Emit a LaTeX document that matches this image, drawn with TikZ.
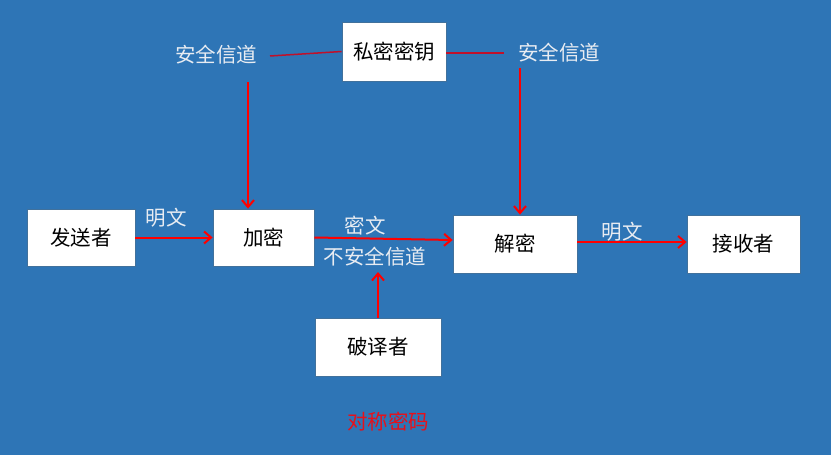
\documentclass[tikz,border=0pt]{standalone}
\usepackage{fontspec}
\setmainfont{Noto Sans CJK SC}
\usetikzlibrary{arrows.meta}
\definecolor{bgblue}{HTML}{2E75B6}
\definecolor{boxline}{HTML}{41719C}
\definecolor{arrred}{HTML}{FF0000}
\definecolor{lnred}{HTML}{C0102A}
\definecolor{lbl}{HTML}{E8ECF2}
\definecolor{ttlred}{HTML}{E8101A}
\tikzset{
  box/.style={draw=boxline, line width=0.8pt, fill=white, inner sep=0pt, text=black, font=\fontsize{20.5}{24}\selectfont},
  lab/.style={text=lbl, inner sep=0pt, font=\fontsize{20.5}{24}\selectfont},
  arr/.style={draw=arrred, line width=2pt, -{Straight Barb[length=7pt,width=12pt,line width=2pt]}},
  ln/.style={draw=lnred, line width=1.5pt}
}
\begin{document}
\begin{tikzpicture}[x=1pt,y=-1pt]
\fill[bgblue] (0,0) rectangle (831,455);
\useasboundingbox (0,0) rectangle (831,455);
% boxes
\node[box, minimum width=104pt, minimum height=59pt] (key) at (394,51.5) {私密密钥};
\node[box, minimum width=108pt, minimum height=57pt] (send) at (81,237.5) {发送者};
\node[box, minimum width=101pt, minimum height=57pt] (enc) at (263.5,237.5) {加密};
\node[box, minimum width=124pt, minimum height=58pt] (dec) at (515,244) {解密};
\node[box, minimum width=113pt, minimum height=58pt] (recv) at (743.5,244) {接收者};
\node[box, minimum width=126pt, minimum height=58pt] (crack) at (378,347) {破译者};
% labels
\node[lab] (chL) at (216,55) {安全信道};
\node[lab] (chR) at (559,53) {安全信道};
\node[lab] (pt1) at (166,218) {明文};
\node[lab] (ct) at (365,226) {密文};
\node[lab] (unsafe) at (375,257) {不安全信道};
\node[lab] (pt2) at (622,232) {明文};
\node[text=ttlred, inner sep=0pt, font=\fontsize{20.5}{24}\selectfont] (title) at (388,422) {对称密码};
% coordinates
\coordinate (lA) at (270,56);
\coordinate (rB) at (504,53);
\coordinate (vL) at (248,82);
\coordinate (vR) at (520,68);
\coordinate (cTop) at (378,272);
% lines
\draw[ln] (lA) -- (key.west);
\draw[ln] (key.east |- rB) -- (rB);
\draw[arr] (vL) -- (vL |- enc.north);
\draw[arr] (vR) -- (vR |- dec.north);
\draw[arr] (send.east) -- (enc.west);
\draw[arr] (enc.east) -- ([yshift=4pt]dec.west);
\draw[arr] ([yshift=2pt]dec.east) -- ([yshift=2pt]recv.west);
\draw[arr] (crack.north) -- (cTop);
\end{tikzpicture}
\end{document}
